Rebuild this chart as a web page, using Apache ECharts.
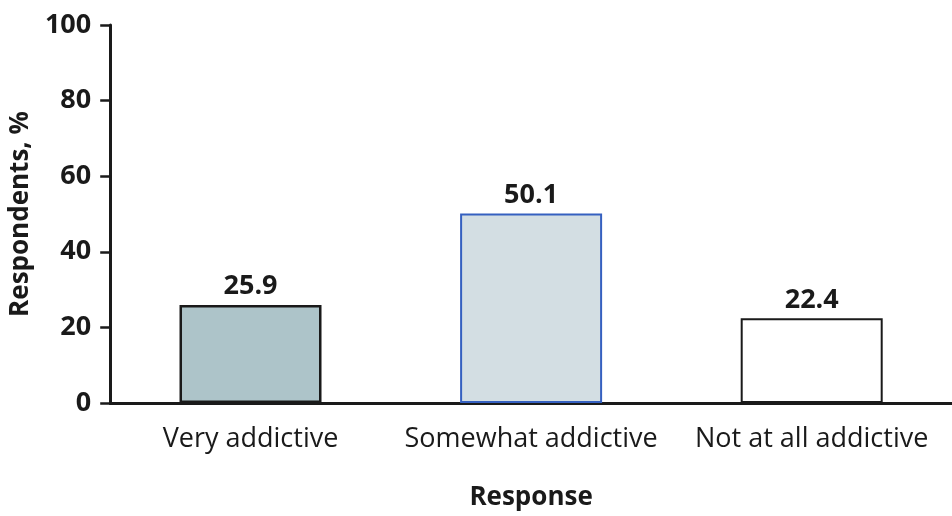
<!DOCTYPE html>
<html>
<head>
<meta charset="utf-8">
<script src="https://cdn.jsdelivr.net/npm/echarts@6/dist/echarts.min.js"></script>
<style>
  html, body { margin: 0; padding: 0; background: #ffffff; }
  #chart { width: 952px; height: 516px; }
</style>
</head>
<body>
<div id="chart"></div>
<script>
// Survey responses: perceived addictiveness
const categories = ['Very addictive', 'Somewhat addictive', 'Not at all addictive'];
const percentValues = [25.9, 50.1, 22.4];
const yTicks = [0, 20, 40, 60, 80, 100];

const barStyles = [
  { color: '#adc4c9', borderColor: '#1a1a1a', borderWidth: 2.5 },
  { color: '#d3dee3', borderColor: '#3560c0', borderWidth: 2 },
  { color: '#ffffff', borderColor: '#1a1a1a', borderWidth: 2 }
];

const FONT = '"Open Sans", "Noto Sans", sans-serif';
const INK = '#1a1a1a';

const chart = echarts.init(document.getElementById('chart'), null, { renderer: 'canvas' });

chart.setOption({
  animation: false,
  backgroundColor: '#ffffff',
  grid: { left: 105, top: 25, width: 849, height: 378, containLabel: false },
  xAxis: {
    type: 'category',
    data: categories,
    name: 'Response',
    nameLocation: 'middle',
    nameGap: 82,
    nameTextStyle: { fontFamily: FONT, fontSize: 26, fontWeight: 'bold', color: INK },
    axisLine: { lineStyle: { color: INK, width: 3 } },
    axisTick: { show: false },
    axisLabel: {
      interval: 0,
      hideOverlap: false,
      fontFamily: FONT,
      fontSize: 27,
      color: INK,
      margin: 23
    }
  },
  yAxis: {
    type: 'value',
    min: yTicks[0],
    max: yTicks[yTicks.length - 1],
    interval: 20,
    name: 'Respondents, %',
    nameLocation: 'middle',
    nameGap: 69,
    nameRotate: 90,
    nameTextStyle: { fontFamily: FONT, fontSize: 26, fontWeight: 'bold', color: INK },
    axisLine: { show: true, lineStyle: { color: INK, width: 3 } },
    axisTick: { show: true, length: 10, inside: false, lineStyle: { color: INK, width: 2.5 } },
    axisLabel: { fontFamily: FONT, fontSize: 27, fontWeight: 'bold', color: INK, margin: 19 },
    splitLine: { show: false }
  },
  series: [{
    type: 'bar',
    barWidth: 142,
    data: percentValues.map((v, i) => ({ value: v, itemStyle: barStyles[i] })),
    label: {
      show: true,
      position: 'top',
      distance: 5,
      fontFamily: FONT,
      fontSize: 27,
      fontWeight: 'bold',
      color: INK,
      formatter: p => p.value.toFixed(1)
    }
  }]
});
</script>
</body>
</html>
